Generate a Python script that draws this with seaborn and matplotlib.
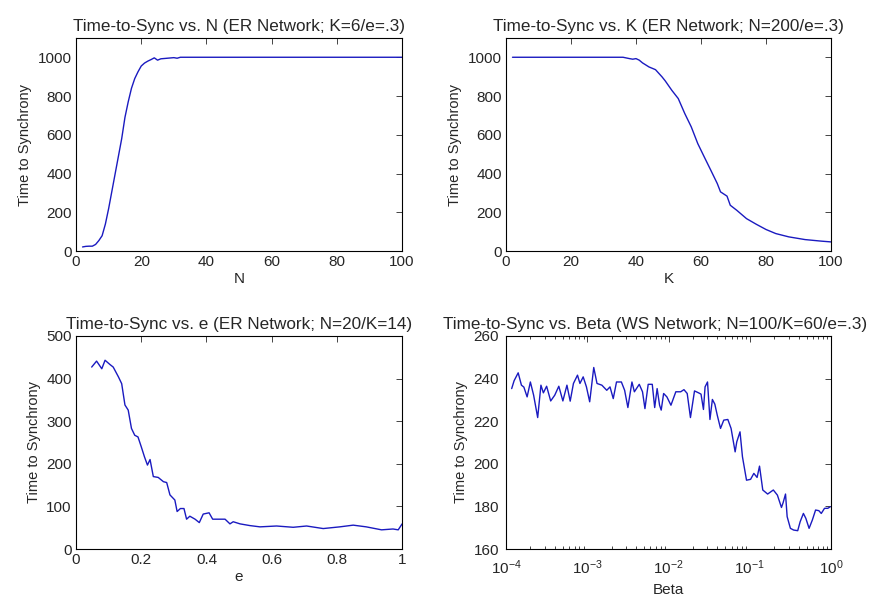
import numpy as np
import pandas as pd
import matplotlib
matplotlib.use('Agg')
import matplotlib.pyplot as plt
import seaborn as sns

# Panel 1: time to sync vs N
n_vals = [2, 3, 4, 5, 6, 7, 8, 9, 10, 11, 12, 13, 14, 15, 16, 17, 18, 19, 20, 21, 22, 23, 24, 25,
          26, 28, 30, 31, 32, 35, 40, 50, 60, 70, 80, 90, 100]
n_sync = [22, 25, 26, 26, 35, 55, 80, 140, 220, 310, 400, 490, 580, 690, 770, 840, 890, 925, 955,
          970, 980, 988, 997, 985, 992, 995, 998, 995, 1000, 1000, 1000, 1000, 1000, 1000, 1000, 1000, 1000]

# Panel 2: time to sync vs K
k_vals = [2, 10, 20, 30, 36, 38, 39, 40, 41, 42, 44, 46, 48, 49, 51, 53, 55, 57, 59, 61, 63, 65,
          66, 68, 69, 71, 74, 77, 80, 83, 87, 92, 97, 100]
k_sync = [1000, 1000, 1000, 1000, 1000, 993, 990, 993, 985, 971, 950, 936, 899, 878, 830, 787, 710,
          641, 555, 486, 418, 349, 306, 284, 237, 211, 168, 139, 112, 91, 74, 60, 52, 48]

# Panel 3: time to sync vs e
e_vals = [0.048, 0.063, 0.079, 0.089, 0.104, 0.114, 0.13, 0.14, 0.15, 0.16, 0.17, 0.18, 0.19, 0.20,
          0.21, 0.219, 0.227, 0.237, 0.252, 0.268, 0.278, 0.288, 0.303, 0.31, 0.32, 0.331, 0.339,
          0.349, 0.365, 0.378, 0.39, 0.408, 0.419, 0.441, 0.457, 0.472, 0.482, 0.503, 0.533, 0.564,
          0.615, 0.666, 0.707, 0.758, 0.809, 0.85, 0.89, 0.937, 0.972, 0.988, 1.0]
e_sync = [427, 441, 423, 443, 433, 427, 404, 388, 338, 326, 283, 267, 263, 240, 216, 197, 210, 170,
          168, 158, 156, 127, 115, 88, 95, 95, 70, 77, 70, 62, 82, 85, 70, 70, 70, 59, 64, 59, 55, 52,
          54, 51, 54, 48, 52, 56, 52, 45, 47, 45, 59]

# Panel 4: time to sync vs beta (log10 of beta)
beta_log = [-3.93, -3.90, -3.85, -3.81, -3.78, -3.74, -3.70, -3.66, -3.61, -3.57, -3.54, -3.50,
            -3.45, -3.40, -3.35, -3.30, -3.25, -3.21, -3.17, -3.12, -3.09, -3.05, -3.01, -2.97,
            -2.92, -2.88, -2.82, -2.76, -2.72, -2.68, -2.64, -2.58, -2.54, -2.50, -2.45, -2.42,
            -2.36, -2.32, -2.29, -2.25, -2.20, -2.17, -2.14, -2.11, -2.09, -2.06, -2.02, -1.97,
            -1.91, -1.85, -1.81, -1.77, -1.73, -1.68, -1.63, -1.60, -1.57, -1.55, -1.52, -1.49,
            -1.46, -1.43, -1.40, -1.36, -1.32, -1.27, -1.23, -1.18, -1.16, -1.12, -1.09, -1.04,
            -0.99, -0.95, -0.91, -0.88, -0.84, -0.78, -0.71, -0.66, -0.61, -0.59, -0.56, -0.54,
            -0.50, -0.46, -0.41, -0.38, -0.34, -0.31, -0.27, -0.23, -0.19, -0.15, -0.12, -0.08,
            -0.04, -0.01]
beta_sync = [235.3, 239, 242.7, 236.9, 236, 231.4, 238.4, 232.2, 221.7, 236.9, 233.3, 236.4,
             229.5, 232.2, 236.4, 229.5, 236.9, 229.4, 237.7, 241.6, 237.7, 240.8, 236.1, 229.1,
             245.2, 237.7, 236.9, 234.5, 236.1, 230.6, 238.4, 238.4, 234.5, 226.4, 238.4, 233.8,
             237.3, 233.8, 225.9, 237.3, 237.3, 226.4, 235.3, 227.5, 225.2, 233, 231.4, 227.5,
             233.8, 233.8, 234.8, 233, 221.7, 234.2, 233.3, 232.7, 225.5, 236.1, 238.4, 220.8,
             230.2, 228, 222.8, 216.6, 220.5, 220.8, 216.6, 205.6, 210.3, 215, 203.3, 192.3,
             192.7, 195.5, 193.6, 198.9, 187.7, 185.8, 187.7, 185.3, 179.5, 181.7, 185.8, 175.2,
             169.7, 168.9, 168.6, 172.8, 176.7, 174.4, 169.7, 173.6, 178.3, 178, 176.7, 179.1,
             179.1, 179.8]

titles = ['Time-to-Sync vs. N (ER Network; K=6/e=.3)',
          'Time-to-Sync vs. K (ER Network; N=200/e=.3)',
          'Time-to-Sync vs. e (ER Network; N=20/K=14)',
          'Time-to-Sync vs. Beta (WS Network; N=100/K=60/e=.3)']
xlabels = ['N', 'K', 'e', 'Beta']

sns.set_style('white')
plt.rcParams['font.family'] = ['Liberation Sans', 'DejaVu Sans']
plt.rcParams['font.size'] = 11
plt.rcParams['xtick.direction'] = 'in'
plt.rcParams['ytick.direction'] = 'in'

fig = plt.figure(figsize=(8.78, 6.01), dpi=100)
boxes = [[0.0866, 0.582, 0.3714, 0.355],
         [0.5763, 0.582, 0.3702, 0.355],
         [0.0866, 0.0865, 0.3714, 0.3545],
         [0.5763, 0.0865, 0.3702, 0.3545]]
axes = [fig.add_axes(b) for b in boxes]

line_color = '#1a1ac0'
frames = [
    pd.DataFrame({'x': n_vals, 'y': n_sync}),
    pd.DataFrame({'x': k_vals, 'y': k_sync}),
    pd.DataFrame({'x': e_vals, 'y': e_sync}),
    pd.DataFrame({'x': 10 ** np.array(beta_log), 'y': beta_sync}),
]

for i, (ax, df) in enumerate(zip(axes, frames)):
    sns.lineplot(data=df, x='x', y='y', ax=ax, color=line_color, linewidth=1.0,
                 estimator=None, sort=False)
    ax.set_title(titles[i], fontsize=12.3, pad=5)
    ax.set_xlabel(xlabels[i], fontsize=11, labelpad=2)
    ax.set_ylabel('Time to Synchrony', fontsize=10.5, labelpad=4)
    ax.tick_params(top=True, right=True, length=4, width=0.6, labelsize=11, pad=3)
    for s in ax.spines.values():
        s.set_color('black')
        s.set_linewidth(0.8)

for ax in axes[:2]:
    ax.set_xlim(0, 100)
    ax.set_ylim(0, 1100)
    ax.set_xticks([0, 20, 40, 60, 80, 100])
    ax.set_yticks([0, 200, 400, 600, 800, 1000])

axes[2].set_xlim(0, 1)
axes[2].set_ylim(0, 500)
axes[2].set_xticks([0, 0.2, 0.4, 0.6, 0.8, 1])
axes[2].set_xticklabels(['0', '0.2', '0.4', '0.6', '0.8', '1'])
axes[2].set_yticks([0, 100, 200, 300, 400, 500])

axes[3].set_xscale('log')
axes[3].set_xlim(1e-4, 1)
axes[3].set_ylim(160, 260)
axes[3].set_yticks([160, 180, 200, 220, 240, 260])
axes[3].tick_params(axis='x', pad=7)
axes[3].tick_params(axis='y', pad=5)
axes[3].tick_params(which='minor', direction='in', top=True, bottom=True, length=2, width=0.6)
axes[3].xaxis.labelpad = 4
# the long title sits a bit left of centre in the reference
axes[3].set_title(titles[3], fontsize=12.3, pad=5, x=0.46)

fig.savefig('out.png', dpi=100, facecolor='white')
